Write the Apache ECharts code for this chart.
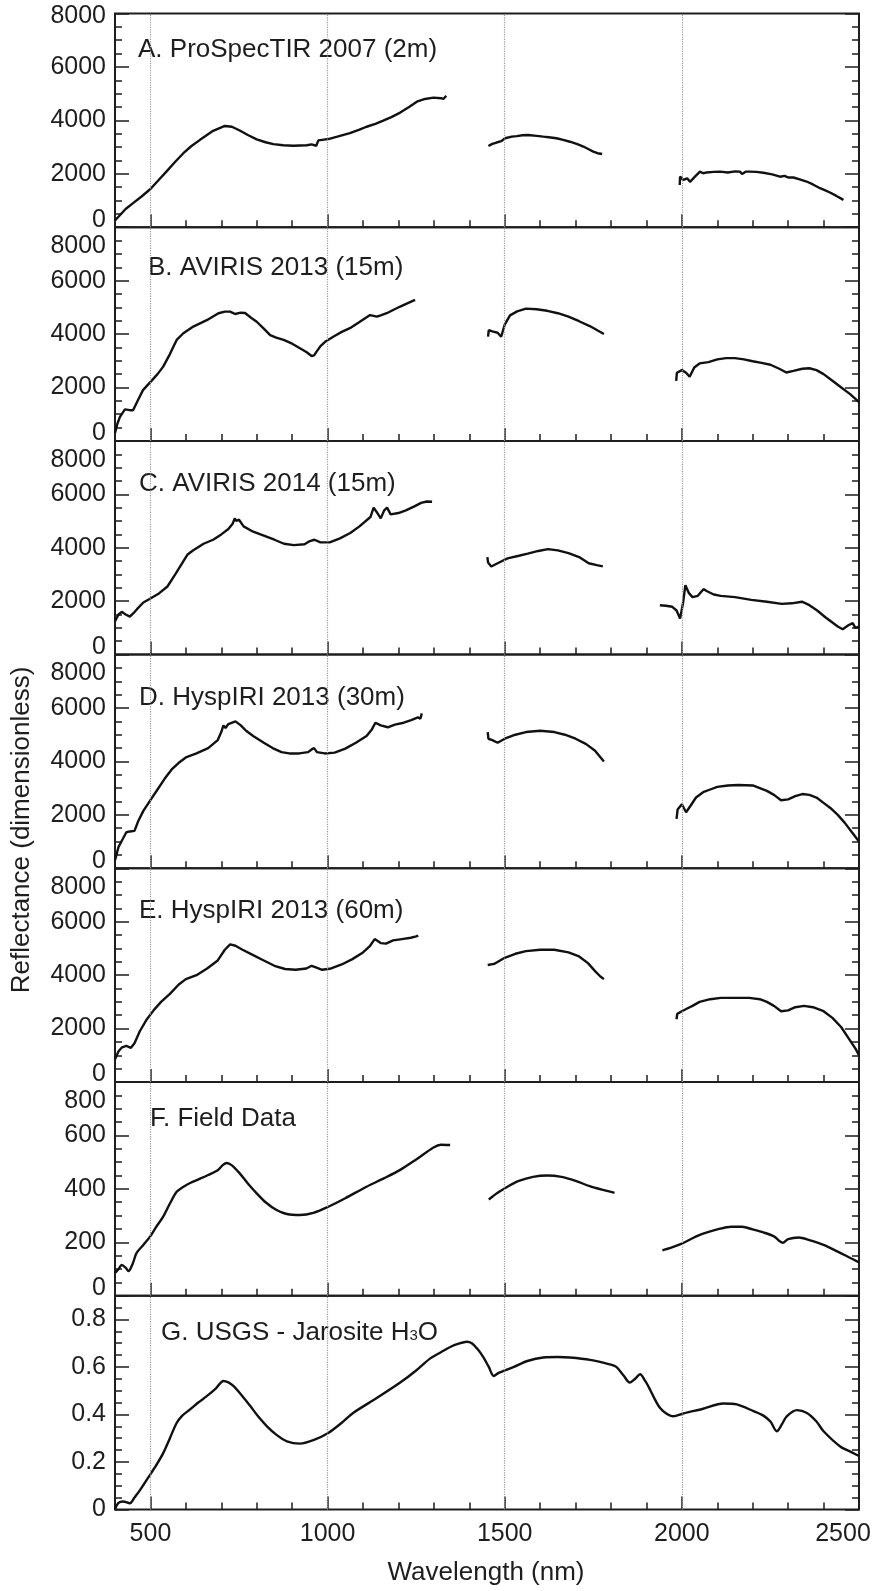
<!DOCTYPE html>
<html>
<head>
<meta charset="utf-8">
<script src="https://cdn.jsdelivr.net/npm/echarts@6/dist/echarts.min.js"></script>
<style>
  html, body { margin: 0; padding: 0; background: #fff; }
  #chart { width: 877px; height: 1591px; }
</style>
</head>
<body>
<div id="chart"></div>
<script>
// Reflectance spectra, wavelength in nm. A null reflectance breaks the line
// across the atmospheric water-absorption windows.
const waveA = [400,430,451,475,500,520,545,570,593,615,640,677,710,730,752,775,800,825,847,875,903,941,955,968,974,990,1002,1030,1063,1090,1110,1135,1157,1180,1205,1230,1252,1275,1299,1320,1327,1335,
  1390,
  1454,1465,1477,1490,1501,1520,1534,1550,1566,1590,1609,1630,1646,1665,1684,1705,1722,1737,1750,1762,1775,
  1880,
  1994,1995,2004,2015,2023,2037,2051,2060,2070,2090,2108,2130,2150,2164,2170,2180,2192,2210,2230,2255,2277,2290,2300,2315,2335,2352,2370,2390,2405,2418,2435,2450,2456];
const reflA = [250,680,900,1150,1430,1720,2080,2450,2770,3030,3270,3610,3790,3760,3620,3450,3290,3180,3110,3070,3050,3070,3100,3050,3250,3280,3300,3400,3520,3650,3760,3870,3990,4120,4290,4500,4700,4800,4850,4830,4800,4920,
  null,
  3040,3120,3170,3220,3330,3390,3410,3440,3450,3420,3390,3360,3330,3270,3200,3110,3020,2920,2830,2770,2740,
  null,
  1580,1900,1770,1830,1700,1890,2080,2020,2050,2070,2080,2050,2090,2080,1990,2080,2080,2070,2040,1980,1890,1920,1860,1860,1780,1710,1600,1460,1380,1300,1180,1070,1020];

const waveB = [400,407,414,428,442,451,465,479,501,520,536,555,574,593,621,659,692,710,725,739,755,767,785,800,820,838,855,876,900,922,940,955,962,969,980,993,1016,1040,1063,1090,1120,1139,1150,1167,1185,1205,1225,1247,
  1350,
  1453,1455,1465,1480,1490,1500,1515,1535,1560,1590,1620,1650,1680,1710,1740,1760,1780,
  1880,
  1984,1986,2000,2012,2022,2035,2050,2075,2100,2125,2150,2175,2200,2225,2250,2275,2295,2315,2340,2360,2380,2400,2425,2450,2475,2500];
const reflB = [300,650,900,1180,1150,1150,1530,1900,2220,2500,2780,3250,3780,4030,4280,4520,4780,4840,4840,4750,4800,4790,4600,4460,4200,3960,3870,3780,3640,3470,3330,3180,3200,3340,3550,3710,3900,4080,4220,4450,4710,4650,4700,4780,4900,5030,5150,5280,
  null,
  3900,4150,4100,4050,3900,4350,4700,4850,4950,4930,4870,4780,4650,4480,4300,4150,4000,
  null,
  2250,2550,2650,2550,2400,2750,2900,2950,3050,3100,3100,3050,2980,2920,2850,2700,2560,2620,2700,2720,2650,2500,2250,2000,1750,1450];

const waveC = [400,410,419,430,442,452,462,480,500,525,548,570,591,605,620,650,677,700,720,732,738,742,750,763,790,820,850,877,905,935,950,963,980,1006,1035,1064,1090,1121,1130,1138,1150,1160,1168,1178,1200,1221,1245,1264,1280,1295,
  1370,
  1451,1453,1462,1480,1508,1540,1565,1595,1622,1650,1680,1710,1737,1760,1777,
  1860,
  1938,1955,1973,1985,1995,2003,2010,2020,2030,2045,2061,2070,2090,2110,2150,2196,2240,2282,2310,2339,2360,2382,2405,2425,2440,2454,2470,2482,2490,2500];
const reflC = [1250,1500,1600,1500,1420,1550,1700,1950,2100,2300,2550,3000,3450,3750,3900,4150,4300,4500,4700,4900,5100,5000,5050,4800,4600,4450,4300,4150,4100,4130,4250,4300,4200,4200,4350,4550,4800,5150,5500,5350,5100,5400,5500,5250,5300,5400,5550,5680,5730,5720,
  null,
  3650,3450,3300,3420,3600,3700,3780,3880,3950,3900,3800,3650,3420,3350,3300,
  null,
  1850,1830,1790,1650,1350,1900,2600,2300,2150,2200,2450,2380,2250,2200,2150,2050,1980,1900,1920,1980,1850,1650,1400,1200,1050,950,1100,1180,1000,1050];

const waveD = [400,410,420,432,442,455,465,480,500,520,540,560,580,600,630,663,690,700,706,712,720,740,755,770,790,820,845,870,892,920,945,955,962,970,992,1020,1050,1080,1110,1125,1135,1150,1170,1190,1215,1236,1255,1262,1266,
  1360,
  1452,1454,1465,1480,1500,1530,1560,1600,1640,1670,1700,1730,1755,1780,
  1880,
  1985,1988,2000,2012,2025,2040,2060,2080,2100,2130,2160,2200,2220,2240,2260,2280,2300,2320,2340,2360,2380,2400,2420,2440,2460,2480,2500];
const reflD = [300,800,1050,1350,1380,1400,1750,2150,2550,2950,3350,3700,3950,4150,4300,4500,4800,5100,5350,5250,5400,5500,5350,5150,4950,4700,4500,4350,4300,4300,4350,4450,4500,4350,4300,4330,4480,4700,4950,5200,5450,5350,5280,5380,5450,5550,5650,5600,5800,
  null,
  5100,4850,4800,4700,4850,5000,5100,5150,5100,5000,4850,4650,4400,4000,
  null,
  1850,2200,2400,2100,2350,2650,2850,2950,3050,3100,3120,3100,3000,2900,2750,2550,2580,2700,2780,2750,2650,2450,2250,2000,1700,1350,1000];

const waveE = [400,410,420,432,445,455,470,490,510,530,555,580,600,630,660,690,710,725,740,760,790,820,850,880,910,940,955,965,985,1010,1040,1070,1100,1120,1133,1150,1165,1185,1210,1235,1250,1256,
  1350,
  1452,1470,1500,1530,1560,1600,1640,1680,1710,1735,1755,1770,1780,
  1880,
  1985,1987,2000,2015,2030,2050,2080,2110,2150,2190,2220,2240,2260,2280,2300,2320,2345,2370,2400,2425,2450,2475,2490,2500];
const reflE = [850,1150,1300,1350,1280,1450,1900,2350,2700,3000,3300,3650,3850,4000,4250,4550,4950,5150,5100,4950,4750,4550,4350,4230,4200,4250,4350,4300,4200,4250,4400,4600,4850,5100,5350,5200,5180,5300,5350,5400,5450,5480,
  null,
  4380,4420,4650,4800,4900,4950,4950,4850,4700,4450,4150,3950,3850,
  null,
  2350,2550,2650,2750,2850,3000,3100,3150,3150,3150,3100,3000,2850,2650,2680,2800,2850,2800,2650,2400,2050,1550,1250,1000];

const waveF = [400,410,419,430,438,450,461,480,499,515,536,555,574,590,612,640,663,690,705,715,730,752,775,800,825,856,885,922,960,1002,1050,1110,1160,1205,1250,1299,1320,1346,
  1400,
  1455,1480,1510,1540,1580,1620,1660,1700,1740,1780,1810,
  1880,
  1945,1970,2000,2030,2060,2100,2140,2170,2200,2230,2260,2275,2285,2300,2330,2360,2400,2440,2470,2500];
const reflF = [85,100,115,105,92,120,160,190,221,255,296,345,389,405,422,438,452,470,490,497,488,458,420,383,350,321,306,302,310,333,365,408,440,471,510,555,565,564,
  null,
  360,385,410,430,445,450,445,430,410,395,385,
  null,
  170,180,195,215,232,248,258,258,248,237,222,205,198,212,218,208,190,165,145,125];

const waveG = [400,409,423,442,455,471,502,520,536,555,574,590,612,635,659,685,706,720,734,758,782,805,829,855,885,922,960,1002,1040,1073,1140,1205,1250,1289,1320,1346,1370,1393,1407,1425,1440,1455,1469,1483,1497,1526,1564,1609,1650,1684,1741,1796,1815,1835,1853,1868,1882,1897,1910,1925,1938,1955,1976,2004,2060,2117,2155,2202,2230,2250,2268,2283,2296,2325,2353,2380,2400,2447,2480,2500];
const reflG = [0.0,0.026,0.033,0.026,0.05,0.082,0.153,0.195,0.237,0.30,0.364,0.395,0.421,0.45,0.477,0.51,0.541,0.535,0.52,0.48,0.435,0.39,0.35,0.315,0.287,0.277,0.292,0.322,0.365,0.407,0.47,0.534,0.585,0.635,0.662,0.684,0.698,0.706,0.70,0.672,0.64,0.60,0.562,0.575,0.583,0.600,0.625,0.640,0.642,0.640,0.630,0.611,0.60,0.565,0.534,0.55,0.569,0.54,0.505,0.46,0.428,0.405,0.392,0.404,0.424,0.446,0.442,0.414,0.395,0.37,0.329,0.36,0.392,0.418,0.406,0.37,0.329,0.265,0.24,0.225];

const panelTitles = ['A. ProSpecTIR 2007 (2m)', 'B. AVIRIS 2013 (15m)', 'C. AVIRIS 2014 (15m)', 'D. HyspIRI 2013 (30m)', 'E. HyspIRI 2013 (60m)', 'F. Field Data', 'G. USGS - Jarosite H{s|3}O'];

// Tick values
const xMajorTicks = [500, 1000, 1500, 2000, 2500];
const xMinorTicks = [500,600,700,800,900,1000,1100,1200,1300,1400,1500,1600,1700,1800,1900,2000,2100,2200,2300,2400];
const gridWaves = [500, 1000, 1500, 2000];
const countMajor = [0, 2000, 4000, 6000, 8000];
const countMinor = [500,1000,1500,2500,3000,3500,4500,5000,5500,6500,7000,7500];
const fieldMajor = [0, 200, 400, 600, 800];
const fieldMinor = [50,100,150,250,300,350,450,500,550,650,700,750];
const usgsMajor = [0, 0.2, 0.4, 0.6, 0.8];
const usgsMinor = [0.05,0.1,0.15,0.25,0.3,0.35,0.45,0.5,0.55,0.65,0.7,0.75,0.85];

const FONT = "'Liberation Sans', Arial, Helvetica, sans-serif";
const INK = '#1e1e1e';

// Airborne spectra are drawn as measured; field and library spectra are smooth curves.
const panels = [
  { wave: waveA, refl: reflA, max: 8000, major: countMajor, minor: countMinor, titleX: 138, titleDy: 36, smooth: false },
  { wave: waveB, refl: reflB, max: 8000, major: countMajor, minor: countMinor, titleX: 148, titleDy: 41, smooth: false },
  { wave: waveC, refl: reflC, max: 8000, major: countMajor, minor: countMinor, titleX: 139, titleDy: 43, smooth: false },
  { wave: waveD, refl: reflD, max: 8000, major: countMajor, minor: countMinor, titleX: 139, titleDy: 43, smooth: false },
  { wave: waveE, refl: reflE, max: 8000, major: countMajor, minor: countMinor, titleX: 139, titleDy: 43, smooth: false },
  { wave: waveF, refl: reflF, max: 800, major: fieldMajor, minor: fieldMinor, titleX: 150, titleDy: 37, smooth: 0.3 },
  { wave: waveG, refl: reflG, max: 0.9, major: usgsMajor, minor: usgsMinor, titleX: 161, titleDy: 37, smooth: 0.3 }
];

const plotLeft = 115, plotRight = 18, plotTop = 13.5, panelH = 213.7;
const tickLine = { color: INK, width: 1.5 };
const labelFont = { fontSize: 25, fontFamily: FONT, color: INK };

const grids = [], xAxes = [], yAxes = [], series = [], graphics = [];

panels.forEach((p, i) => {
  const top = plotTop + i * panelH;
  const last = i === panels.length - 1;
  grids.push({ left: plotLeft, right: plotRight, top: top, height: panelH, show: true,
    borderColor: INK, borderWidth: 2, backgroundColor: 'transparent' });

  const xBase = { gridIndex: i, type: 'value', min: 400, max: 2500, position: 'bottom',
    axisLine: { show: false }, splitLine: { show: false } };
  xAxes.push(Object.assign({}, xBase, {
    axisTick: { show: true, inside: true, length: 13, customValues: xMajorTicks, lineStyle: tickLine },
    axisLabel: Object.assign({ show: last, customValues: xMajorTicks, margin: 12,
      formatter: v => v === 2500 ? '{end|' + v + '}' : String(v),
      rich: { end: Object.assign({ padding: [0, 32, 0, 0] }, labelFont) } }, labelFont)
  }));
  xAxes.push(Object.assign({}, xBase, {
    axisTick: { show: true, inside: true, length: 7, customValues: xMinorTicks, lineStyle: tickLine },
    axisLabel: { show: false }
  }));

  const yBase = { gridIndex: i, type: 'value', min: 0, max: p.max,
    axisLine: { show: false }, splitLine: { show: false } };
  yAxes.push(Object.assign({}, yBase, { position: 'left',
    axisTick: { show: true, inside: true, length: 14, customValues: p.major, lineStyle: tickLine },
    axisLabel: Object.assign({ customValues: p.major, margin: 9,
      formatter: v => {
        const s = String(v);
        if (v === 0 && !last) return '{lo|' + s + '}';
        if (v === p.max) return (i === 0 ? '{cap|' : '{hi|') + s + '}';
        return s;
      },
      rich: {
        lo: Object.assign({ padding: [0, 0, 15, 0] }, labelFont),
        hi: Object.assign({ padding: [38, 0, 0, 0] }, labelFont),
        cap: Object.assign({ padding: [6, 0, 0, 0] }, labelFont)
      } }, labelFont)
  }));
  yAxes.push(Object.assign({}, yBase, { position: 'left',
    axisTick: { show: true, inside: true, length: 7, customValues: p.minor, lineStyle: tickLine },
    axisLabel: { show: false } }));
  yAxes.push(Object.assign({}, yBase, { position: 'right',
    axisTick: { show: true, inside: true, length: 14, customValues: p.major, lineStyle: tickLine },
    axisLabel: { show: false } }));
  yAxes.push(Object.assign({}, yBase, { position: 'right',
    axisTick: { show: true, inside: true, length: 7, customValues: p.minor, lineStyle: tickLine },
    axisLabel: { show: false } }));

  series.push({
    type: 'line', xAxisIndex: 2 * i, yAxisIndex: 4 * i,
    data: p.wave.map((w, k) => [w, p.refl[k]]),
    showSymbol: false, symbol: 'none', connectNulls: false, silent: true,
    smooth: p.smooth,
    lineStyle: { color: '#111', width: 2.4 },
    markLine: { silent: true, symbol: ['none', 'none'], label: { show: false },
      lineStyle: { type: 'dotted', color: '#9a9a9a', width: 1.2 },
      emphasis: { disabled: true },
      data: gridWaves.map(w => ({ xAxis: w })) }
  });

  graphics.push({ type: 'text', x: p.titleX, y: top + p.titleDy, silent: true,
    style: { text: panelTitles[i], font: '26px ' + FONT, fill: INK,
      align: 'left', verticalAlign: 'middle', textAlign: 'left', textVerticalAlign: 'middle',
      rich: { s: { fontSize: 15, fontFamily: FONT, fill: INK, verticalAlign: 'bottom', padding: [0, 0, 2, 0] } } } });
});

graphics.push({ type: 'text', x: 486, y: 1573, silent: true,
  style: { text: 'Wavelength (nm)', font: '26px ' + FONT, fill: INK,
    align: 'center', verticalAlign: 'middle', textAlign: 'center', textVerticalAlign: 'middle' } });
graphics.push({ type: 'text', x: 22, y: 830, rotation: Math.PI / 2, silent: true,
  style: { text: 'Reflectance (dimensionless)', font: '26px ' + FONT, fill: INK,
    align: 'center', verticalAlign: 'middle', textAlign: 'center', textVerticalAlign: 'middle' } });

const chart = echarts.init(document.getElementById('chart'), null, { renderer: 'canvas' });
chart.setOption({
  backgroundColor: '#ffffff',
  animation: false,
  grid: grids,
  xAxis: xAxes,
  yAxis: yAxes,
  series: series,
  graphic: graphics
});
</script>
</body>
</html>
